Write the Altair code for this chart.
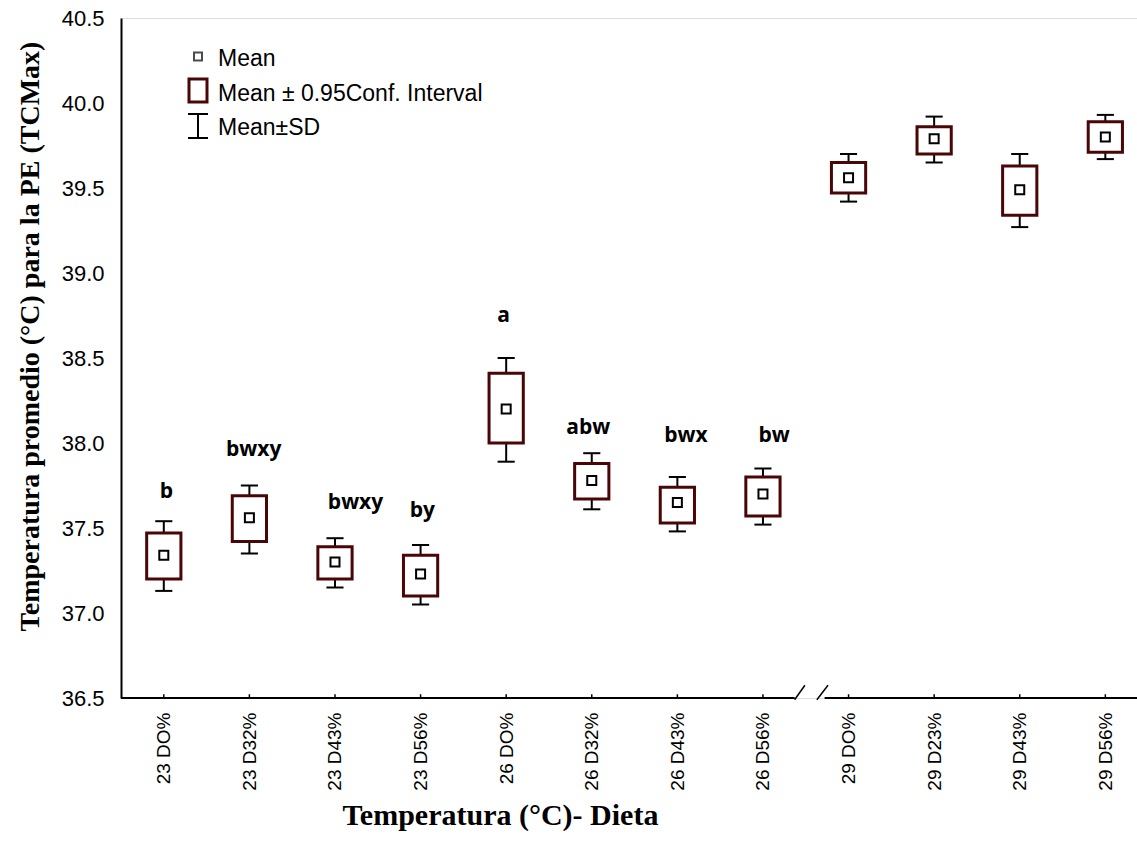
import json
import altair as alt
import pandas as pd

# ---- data ----
categories = ["23 DO%", "23 D32%", "23 D43%", "23 D56%",
              "26 DO%", "26 D32%", "26 D43%", "26 D56%",
              "29 DO%", "29 D23%", "29 D43%", "29 D56%"]
means = [37.34, 37.56, 37.30, 37.23, 38.20, 37.78, 37.65, 37.70, 39.56, 39.79, 39.49, 39.80]
ci_low = [37.20, 37.42, 37.20, 37.10, 38.00, 37.67, 37.53, 37.57, 39.47, 39.70, 39.34, 39.71]
ci_high = [37.47, 37.69, 37.39, 37.34, 38.41, 37.88, 37.74, 37.80, 39.65, 39.86, 39.63, 39.89]
sd_low = [37.13, 37.35, 37.15, 37.05, 37.89, 37.61, 37.48, 37.52, 39.42, 39.65, 39.27, 39.67]
sd_high = [37.54, 37.75, 37.44, 37.40, 38.50, 37.94, 37.80, 37.85, 39.70, 39.92, 39.70, 39.93]

letters = ["b", "bwxy", "bwxy", "by", "a", "abw", "bwx", "bw"]
letter_height = [37.71, 37.96, 37.65, 37.60, 38.75, 38.09, 38.04, 38.04]
letter_shift = [0.03, 0.05, 0.24, 0.02, -0.03, -0.04, 0.1, 0.13]

y_ticks = [36.5, 37.0, 37.5, 38.0, 38.5, 39.0, 39.5, 40.0, 40.5]
legend_labels = ["Mean", "Mean \u00b1 0.95Conf. Interval", "Mean\u00b1SD"]

BOX = "#4a0606"
SANS = "Liberation Sans"
SERIF = "Liberation Serif"

df = pd.DataFrame({
    "idx": list(range(len(categories))),
    "cat": categories,
    "mean": means,
    "ci_lo": ci_low,
    "ci_hi": ci_high,
    "sd_lo": sd_low,
    "sd_hi": sd_high,
})
df_letters = pd.DataFrame({
    "idx": list(range(len(letters))),
    "shift": letter_shift,
    "letter": letters,
    "ly": letter_height,
})

x_dom = [-0.5, 11.37]
y_dom = [36.5, 40.5]
label_expr = json.dumps(categories) + "[datum.value]"

xs = alt.Scale(domain=x_dom, nice=False, zero=False)
ys = alt.Scale(domain=y_dom, nice=False, zero=False)

x_axis = alt.Axis(
    values=list(range(len(categories))), labelExpr=label_expr,
    ticks=False, domain=False, grid=False,
    labelAngle=-90, labelAlign="right", labelBaseline="middle",
    labelPadding=14, labelFont=SANS, labelFontSize=19, labelColor="black",
    title="Temperatura (\u00b0C)- Dieta", titleFont=SERIF, titleFontSize=30,
    titleFontWeight="bold", titleColor="black",
    titleX=379, titleY=117, titleAlign="center", titleBaseline="middle",
)
y_axis = alt.Axis(
    values=y_ticks, format=".1f", ticks=False, grid=False,
    domainColor="black", domainWidth=2,
    labelPadding=17, labelFont=SANS, labelFontSize=22, labelColor="black",
    title="Temperatura promedio (\u00b0C) para la PE (TCMax)",
    titleFont=SERIF, titleFontSize=28, titleFontWeight="bold", titleColor="black",
    titleX=-91, titleY=318, titleAlign="center", titleBaseline="middle", titleAngle=-90,
)

base = alt.Chart(df)

whisk = base.mark_rule(color="black", strokeWidth=2).encode(
    x=alt.X("idx:Q", scale=xs, axis=x_axis),
    y=alt.Y("sd_lo:Q", scale=ys, axis=y_axis),
    y2="sd_hi:Q",
)
caps_lo = base.transform_calculate(a="datum.idx - 0.1", b="datum.idx + 0.1").mark_rule(
    color="black", strokeWidth=2).encode(
    x=alt.X("a:Q", scale=xs), x2="b:Q", y=alt.Y("sd_lo:Q", scale=ys))
caps_hi = base.transform_calculate(a="datum.idx - 0.1", b="datum.idx + 0.1").mark_rule(
    color="black", strokeWidth=2).encode(
    x=alt.X("a:Q", scale=xs), x2="b:Q", y=alt.Y("sd_hi:Q", scale=ys))
boxes = base.transform_calculate(a="datum.idx - 0.2", b="datum.idx + 0.2").mark_rect(
    fill="white", stroke=BOX, strokeWidth=3).encode(
    x=alt.X("a:Q", scale=xs), x2="b:Q",
    y=alt.Y("ci_lo:Q", scale=ys), y2="ci_hi:Q")
mean_pts = base.mark_square(size=81, fill="white", stroke="black", strokeWidth=2, opacity=1).encode(
    x=alt.X("idx:Q", scale=xs), y=alt.Y("mean:Q", scale=ys))
letter_txt = alt.Chart(df_letters).transform_calculate(lx="datum.idx + datum.shift").mark_text(
    font="Open Sans", fontWeight="bold", fontSize=21, color="black", baseline="middle").encode(
    x=alt.X("lx:Q", scale=xs), y=alt.Y("ly:Q", scale=ys), text="letter:N")

# inward x ticks
xticks = base.transform_calculate(t0="36.5", t1="36.522").mark_rule(color="black", strokeWidth=1.5).encode(
    x=alt.X("idx:Q", scale=xs), y=alt.Y("t0:Q", scale=ys), y2="t1:Q")

# broken x axis line
seg = pd.DataFrame({"a": [-0.5, 7.72], "b": [7.37, 11.37], "y": [36.5, 36.5]})
xline = alt.Chart(seg).mark_rule(color="black", strokeWidth=2).encode(
    x=alt.X("a:Q", scale=xs), x2="b:Q", y=alt.Y("y:Q", scale=ys))
slash = pd.DataFrame({"a": [7.37, 7.63], "b": [7.49, 7.76], "y0": [36.49, 36.49], "y1": [36.575, 36.575]})
slashes = alt.Chart(slash).mark_rule(color="black", strokeWidth=1.5).encode(
    x=alt.X("a:Q", scale=xs), x2="b:Q", y=alt.Y("y0:Q", scale=ys), y2="y1:Q")

# legend
one = alt.Data(values=[{"k": 0}])
leg_sq = alt.Chart(one).mark_square(size=64, fill="white", stroke="black", strokeWidth=2).encode(
    x=alt.value(77), y=alt.value(38.5))
leg_box = alt.Chart(one).mark_rect(fill="white", stroke=BOX, strokeWidth=3).encode(
    x=alt.value(68), x2=alt.value(86), y=alt.value(61), y2=alt.value(84))
leg_v = alt.Chart(one).mark_rule(color="black", strokeWidth=2).encode(
    x=alt.value(77), y=alt.value(96), y2=alt.value(120))
leg_c1 = alt.Chart(one).mark_rule(color="black", strokeWidth=2).encode(
    x=alt.value(67), x2=alt.value(87), y=alt.value(96))
leg_c2 = alt.Chart(one).mark_rule(color="black", strokeWidth=2).encode(
    x=alt.value(67), x2=alt.value(87), y=alt.value(120))
leg_df = pd.DataFrame({"t": legend_labels, "k": [0, 1, 2]})
leg_txt = alt.Chart(leg_df).transform_calculate(py="41 + datum.k * 34.5").mark_text(
    font=SANS, fontSize=23, color="black", align="left", baseline="middle").encode(
    x=alt.value(97), y=alt.Y("py:Q", scale=None), text="t:N")

chart = alt.layer(
    whisk, caps_lo, caps_hi, boxes, mean_pts, letter_txt, xticks, xline, slashes,
    leg_sq, leg_box, leg_v, leg_c1, leg_c2, leg_txt,
).properties(
    width=1016, height=680,
    autosize=alt.AutoSizeParams(type="none"),
    padding={"left": 121, "top": 18, "right": 0, "bottom": 156},
).configure_view(stroke=None).configure(background="white")

chart.save("out.html", embed_options={"renderer": "svg", "actions": False})
